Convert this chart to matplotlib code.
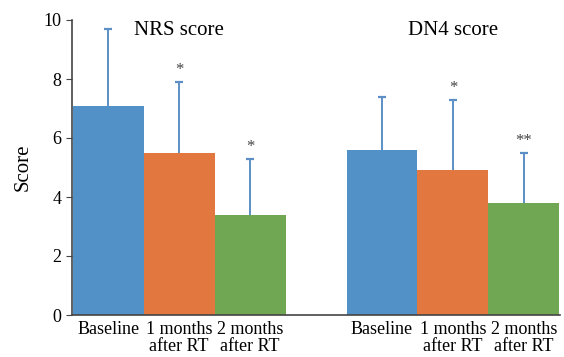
import numpy as np
import matplotlib
matplotlib.use('Agg')
import matplotlib.pyplot as plt

plt.rcParams['font.family'] = 'Liberation Serif'
plt.rcParams['font.size'] = 13

labels = ['Baseline', '1 months\nafter RT', '2 months\nafter RT']
nrs_mean = [7.1, 5.5, 3.4]
nrs_err = [2.6, 2.4, 1.9]
dn4_mean = [5.6, 4.9, 3.8]
dn4_err = [1.8, 2.4, 1.7]
nrs_sig = ['', '*', '*']
dn4_sig = ['', '*', '**']
colors = ['#5291c7', '#e2773f', '#6fa752']
ecol = '#5b8fc6'

fig = plt.figure(figsize=[5.64, 3.57], dpi=100)
ax = fig.add_axes([72/564, 1 - 315/357, 488/564, 295/357])

x1 = np.arange(3)
x2 = x1 + 3.86
for xs, m, e, sig in [(x1, nrs_mean, nrs_err, nrs_sig), (x2, dn4_mean, dn4_err, dn4_sig)]:
    top = np.array(m) + np.array(e)
    ax.bar(xs, m, width=1.0, color=colors)
    ax.vlines(xs, m, top, color=ecol, lw=1.4)
    ax.plot(xs, top, ls='none', marker='_', ms=6, mew=1.6, color=ecol)
    for xi, ti, s in zip(xs, top, sig):
        if s:
            ax.text(xi, ti + 0.12, s, ha='center', va='bottom', fontsize=12, color='#444444')

ax.text(x1[1], 9.98, 'NRS score', ha='center', va='top', fontsize=15)
ax.text(x2[1], 9.98, 'DN4 score', ha='center', va='top', fontsize=15)

ax.set_xlim(-0.51, x2[-1] + 0.51)
ax.set_ylim(0, 10)
ax.set_yticks([0, 2, 4, 6, 8, 10])
ax.set_xticks(np.concatenate([x1, x2]))
ax.set_xticklabels(labels * 2, linespacing=1.0)
ax.tick_params(axis='x', length=0, pad=4)
ax.tick_params(axis='y', length=4, color='#444444')
ax.set_ylabel('Score', fontsize=15, labelpad=8)
for side in ['top', 'right']:
    ax.spines[side].set_visible(False)
for side in ['left', 'bottom']:
    ax.spines[side].set_color('#444444')
    ax.spines[side].set_linewidth(1.2)

fig.savefig('out.png', dpi=100)
